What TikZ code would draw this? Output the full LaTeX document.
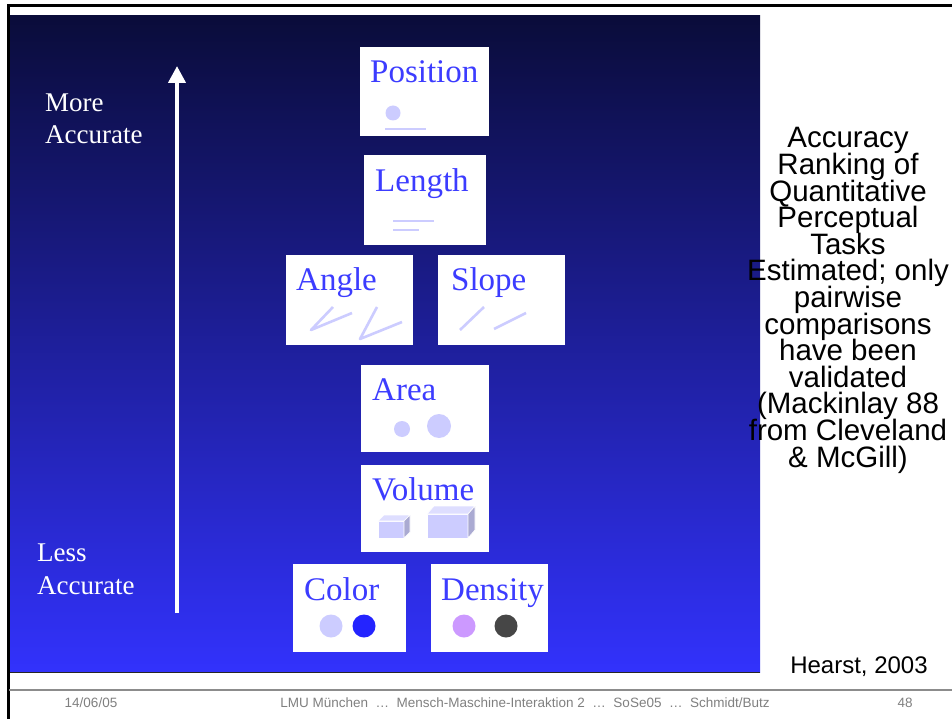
\documentclass[tikz,border=0pt]{standalone}
\usepackage{fontspec}
\setmainfont{Liberation Serif}
\newfontfamily\arialfont{Liberation Sans}
\usetikzlibrary{arrows.meta,calc}
\newcommand\mytightlines{\lineskiplimit=-100pt\relax\lineskip=0pt\relax}
\definecolor{lblblue}{RGB}{60,60,255}
\definecolor{glyphc}{RGB}{204,204,255}
\definecolor{glyphtop}{RGB}{222,222,255}
\definecolor{glyphside}{RGB}{170,170,210}
\definecolor{navytop}{RGB}{10,12,58}
\definecolor{navymid}{RGB}{30,30,165}
\definecolor{bluebot}{RGB}{50,50,252}
\definecolor{dotblue}{RGB}{36,36,255}
\definecolor{dotlav}{RGB}{204,153,255}
\definecolor{dotdark}{RGB}{70,70,70}
\definecolor{footgray}{RGB}{128,128,128}
\begin{document}
\begin{tikzpicture}[x=1pt,y=-1pt,
  card/.style={fill=white, inner sep=0pt, outer sep=0pt, anchor=north west},
  boxlbl/.style={anchor=base west, inner sep=0pt, text=lblblue, font=\fontsize{33}{36}\selectfont},
  sidelbl/.style={anchor=base west, inner sep=0pt, text=white, align=left, font=\fontsize{27}{32}\selectfont},
  glyphline/.style={draw=glyphc, line width=2.6pt},
  rtext/.style={inner sep=0pt, align=center, text=black, font=\arialfont\fontsize{29.5}{26.6}\selectfont\mytightlines},
  foot/.style={inner sep=0pt, anchor=base, text=footgray, font=\arialfont\fontsize{13.5}{16}\selectfont}]
\useasboundingbox (0,0) rectangle (952,719);
\fill[white] (0,0) rectangle (952,719);
% blue panel
\shade[top color=navytop, middle color=navymid, bottom color=bluebot] (9,16) rectangle (760,672);
\draw[black!85, line width=1.5pt] (9,672.5) -- (760,672.5);
% frame lines
\draw[black, line width=3pt] (8,6) -- (952,6);
\draw[black, line width=3pt] (8,4.5) -- (8,719);
\draw[black!45, line width=2pt] (9,690) -- (952,690);
% arrow
\coordinate (arrS) at (177,613);
\coordinate (arrE) at (177,66);
\draw[white, line width=4pt, -{Triangle[width=17pt,length=17pt]}] (arrS) -- (arrE);
\node[sidelbl] (more) at (45,112) {More};
\node[sidelbl] (moreacc) at (45,144) {Accurate};
\node[sidelbl] (less) at (37,561) {Less};
\node[sidelbl] (lessacc) at (37,594) {Accurate};
% cards
\node[card, minimum width=129pt, minimum height=89pt] (position) at (360,47) {};
\node[boxlbl] (positionl) at ($(position.north west)+(10,36)$) {Position};
\fill[glyphc] (393,113) circle (7.5);
\draw[glyphline] (385,129) -- (426,129);

\node[card, minimum width=122pt, minimum height=90pt] (length) at (364,155) {};
\node[boxlbl] (lengthl) at ($(length.north west)+(11,37)$) {Length};
\draw[glyphline] (393,221) -- (434,221);
\draw[glyphline] (393,230) -- (419,230);

\node[card, minimum width=127pt, minimum height=90pt] (angle) at (286,255) {};
\node[boxlbl] (anglel) at ($(angle.north west)+(10,35)$) {Angle};
\draw[glyphline, line join=round] (333,307) -- (311,330) -- (352,313);
\draw[glyphline, line join=round] (377,307) -- (360,339) -- (402,322);

\node[card, minimum width=127pt, minimum height=90pt] (slope) at (438,255) {};
\node[boxlbl] (slopel) at ($(slope.north west)+(13,35)$) {Slope};
\draw[glyphline] (460,330) -- (484,307);
\draw[glyphline] (494,329) -- (526,313);

\node[card, minimum width=128pt, minimum height=87pt] (area) at (361,365) {};
\node[boxlbl] (areal) at ($(area.north west)+(11,35)$) {Area};
\fill[glyphc] (402,429) circle (8);
\fill[glyphc] (439,426) circle (12);

\node[card, minimum width=128pt, minimum height=87pt] (volume) at (361,465) {};
\node[boxlbl] (volumel) at ($(volume.north west)+(11,35)$) {Volume};
\begin{scope}[draw=white, line width=0.6pt]
\filldraw[fill=glyphc] (378,521) rectangle (404,538);
\filldraw[fill=glyphtop] (378,521) -- (384,515) -- (410,515) -- (404,521) -- cycle;
\filldraw[fill=glyphside] (404,521) -- (410,515) -- (410,532) -- (404,538) -- cycle;
\filldraw[fill=glyphc] (427,514) rectangle (468,538);
\filldraw[fill=glyphtop] (427,514) -- (434,506) -- (475,506) -- (468,514) -- cycle;
\filldraw[fill=glyphside] (468,514) -- (475,506) -- (475,530) -- (468,538) -- cycle;
\end{scope}

\node[card, minimum width=113pt, minimum height=88pt] (color) at (293,564) {};
\node[boxlbl] (colorl) at ($(color.north west)+(11,36)$) {Color};
\fill[glyphc] (331,626) circle (11.5);
\fill[dotblue] (364,626) circle (11.5);

\node[card, minimum width=117pt, minimum height=88pt] (density) at (431,564) {};
\node[boxlbl] (densityl) at ($(density.north west)+(10,36)$) {Density};
\fill[dotlav] (464,626) circle (11.5);
\fill[dotdark] (506,626) circle (11.5);

% right text (base anchor = baseline of the last line)
\node[rtext, anchor=base] (rank) at (848,467) {Accuracy\\Ranking of\\Quantitative\\Perceptual\\Tasks\\Estimated; only\\pairwise\\comparisons\\have been\\validated\\(Mackinlay 88\\from Cleveland\\\& McGill)};
\node[inner sep=0pt, anchor=base, font=\arialfont\fontsize{24}{26}\selectfont] (hearst) at (859,673) {Hearst, 2003};
% footer
\node[foot] (date) at (91,707) {14/06/05};
\node[foot] (course) at (525,707) {LMU München~ …~ Mensch-Maschine-Interaktion 2~ …~ SoSe05~ …~ Schmidt/Butz};
\node[foot] (page) at (905,707) {48};
\end{tikzpicture}
\end{document}
